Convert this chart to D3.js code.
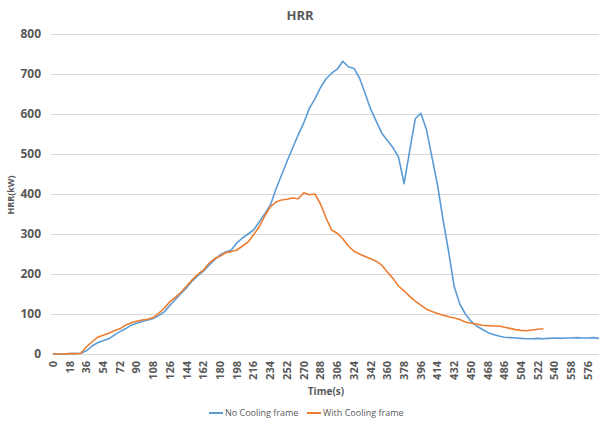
<!DOCTYPE html>
<html>
<head>
<meta charset="utf-8">
<script src="https://cdn.jsdelivr.net/npm/d3@7"></script>
<style>
  body { margin: 0; background: #fff; }
  text { font-family: "Open Sans", sans-serif; fill: #595959; }
</style>
</head>
<body>
<svg id="chart" width="599" height="421"></svg>
<script>
// time axis, one sample every 6 s
var times = d3.range(0, 589, 6);
var xTickLabels = [0, 18, 36, 54, 72, 90, 108, 126, 144, 162, 180, 198, 216, 234, 252, 270, 288,
  306, 324, 342, 360, 378, 396, 414, 432, 450, 468, 486, 504, 522, 540, 558, 576];
var yTicks = [0, 100, 200, 300, 400, 500, 600, 700, 800];

var noCooling = [0, 0, 0, 1, 1, 2, 8, 20, 28, 33, 38, 47, 56, 63, 72, 77, 81, 85, 89, 96,
  106, 122, 137, 152, 166, 183, 196, 207, 222, 236, 248, 255, 260, 278, 290, 300, 310, 330, 350, 372,
  412, 447, 482, 515, 548, 578, 614, 638, 666, 688, 702, 712, 732, 718, 714, 690, 652, 612, 582, 552,
  534, 516, 492, 426, 508, 588, 602, 562, 492, 422, 335, 255, 168, 125, 100, 82, 70, 62, 54, 49,
  45, 42, 41, 40, 39, 38, 38, 39, 38, 39, 40, 39, 40, 40, 41, 40, 40, 41, 39];
var withCooling = [0, 0, 0, 1, 1, 2, 18, 30, 42, 47, 52, 58, 63, 72, 78, 82, 85, 87, 91, 102,
  115, 131, 142, 155, 170, 186, 199, 210, 227, 238, 245, 253, 256, 260, 270, 280, 298, 318, 345, 368,
  380, 385, 387, 390, 388, 403, 398, 400, 375, 340, 310, 302, 288, 270, 257, 250, 244, 238, 232, 222,
  205, 189, 170, 158, 144, 132, 122, 112, 106, 101, 97, 93, 90, 86, 80, 77, 75, 72, 71, 70,
  70, 67, 64, 61, 59, 58, 60, 62, 63];

var series = [
  { name: "No Cooling frame", color: "#5b9bd5", values: noCooling },
  { name: "With Cooling frame", color: "#ed7d31", values: withCooling }
];

var svg = d3.select("#chart");

var x = d3.scaleLinear().domain([0, 590]).range([53, 601]);
var y = d3.scaleLinear().domain([0, 800]).range([354, 34]);

// gridlines
svg.append("g")
  .selectAll("line")
  .data(yTicks)
  .enter().append("line")
    .attr("x1", 51).attr("x2", 599)
    .attr("y1", function(d) { return y(d) + 0.5; })
    .attr("y2", function(d) { return y(d) + 0.5; })
    .attr("stroke", "#d9d9d9")
    .attr("stroke-width", 1);

// y tick labels
svg.append("g")
  .selectAll("text")
  .data(yTicks)
  .enter().append("text")
    .attr("x", 41)
    .attr("y", function(d) { return y(d); })
    .attr("dy", "0.35em")
    .attr("text-anchor", "end")
    .style("font-size", "12px")
    .style("font-weight", "bold")
    .text(function(d) { return d; });

// x tick labels (rotated)
svg.append("g")
  .selectAll("text")
  .data(xTickLabels)
  .enter().append("text")
    .attr("transform", function(d) { return "translate(" + x(d) + ",361) rotate(-90)"; })
    .attr("dy", "0.35em")
    .attr("text-anchor", "end")
    .style("font-size", "11px")
    .style("font-weight", "bold")
    .text(function(d) { return d; });

// lines
var line = d3.line()
  .x(function(d, i) { return x(times[i]); })
  .y(function(d) { return y(d); });

svg.append("g")
  .selectAll("path")
  .data(series)
  .enter().append("path")
    .attr("fill", "none")
    .attr("stroke", function(d) { return d.color; })
    .attr("stroke-width", 1.6)
    .attr("stroke-linejoin", "round")
    .attr("d", function(d) { return line(d.values); });

// titles
svg.append("text")
  .attr("x", 300).attr("y", 20)
  .attr("text-anchor", "middle")
  .style("font-size", "13px")
  .style("font-weight", "bold")
  .text("HRR");

svg.append("text")
  .attr("transform", "translate(14,195) rotate(-90)")
  .attr("text-anchor", "middle")
  .style("font-size", "9px")
  .style("font-weight", "bold")
  .text("HRR(kW)");

svg.append("text")
  .attr("x", 326).attr("y", 395)
  .attr("text-anchor", "middle")
  .style("font-size", "10px")
  .style("font-weight", "bold")
  .text("Time(s)");

// legend
var legendX = [209, 307];
var legend = svg.append("g")
  .selectAll("g")
  .data(series)
  .enter().append("g")
    .attr("transform", function(d, i) { return "translate(" + legendX[i] + ",413)"; });

legend.append("line")
  .attr("x1", 0).attr("x2", 14)
  .attr("stroke", function(d) { return d.color; })
  .attr("stroke-width", 2);

legend.append("text")
  .attr("x", 16)
  .attr("dy", "0.35em")
  .style("font-size", "9px")
  .text(function(d) { return d.name; });
</script>
</body>
</html>
